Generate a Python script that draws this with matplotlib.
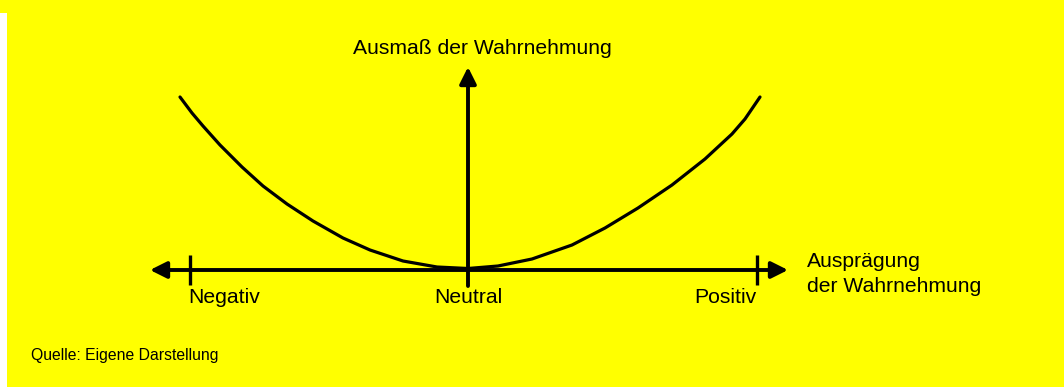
import matplotlib
matplotlib.use("Agg")
import matplotlib.pyplot as plt
from matplotlib.patches import Rectangle

plt.rcParams['font.family'] = ['Liberation Sans', 'DejaVu Sans']

# Kurve der Wahrnehmung (Ursprung = Schnittpunkt der Achsen)
curve_x = [-288, -276, -265, -248, -226, -205, -181, -155, -125, -98, -65, -31,
           0, 30, 64, 104, 137, 170, 204, 237, 264, 277, 292]
curve_y = [173, 157, 144, 125, 103, 84, 66, 49, 32, 20, 9, 3,
           1.5, 4, 11, 25, 42, 62, 85, 111, 136, 151, 173]

# Achsenmarken
tick_pos = [-278, 0, 289]
tick_labels = ['Negativ', 'Neutral', 'Positiv']

x_axis_range = (-318, 320)
y_axis_range = (-16, 203)

YELLOW = '#FFFF00'

fig = plt.figure(figsize=(10.64, 3.87), dpi=100, facecolor=YELLOW)
ax = fig.add_axes([0, 0, 1, 1])
ax.set_facecolor(YELLOW)
ax.set_xlim(-468, 596)
ax.set_ylim(-117, 270)
ax.axis('off')

# weisser Rand links
fig.patches.append(Rectangle((0, 0), 7 / 1064, 374 / 387, transform=fig.transFigure,
                             facecolor='white', edgecolor='none', zorder=0))

arrow = dict(arrowstyle='-|>,head_length=0.5,head_width=0.25', lw=2.8,
             color='black', mutation_scale=20, shrinkA=0, shrinkB=0)
arrow2 = dict(arrow, arrowstyle='<|-|>,head_length=0.5,head_width=0.25')

# horizontale Achse
ax.annotate('', xy=(x_axis_range[1], 0), xytext=(x_axis_range[0], 0), arrowprops=arrow2)
# vertikale Achse
ax.annotate('', xy=(0, y_axis_range[1]), xytext=(0, y_axis_range[0]), arrowprops=arrow)

# Striche bei Negativ / Positiv
for tx in (tick_pos[0], tick_pos[2]):
    ax.plot([tx, tx], [15, -15], color='black', lw=2.4, solid_capstyle='butt')

ax.plot(curve_x, curve_y, color='black', lw=2.3, solid_capstyle='round',
        solid_joinstyle='round')

fs = 15.2
ax.text(tick_pos[0] - 2, -33, tick_labels[0], ha='left', va='baseline', fontsize=fs)
ax.text(tick_pos[1], -33, tick_labels[1], ha='center', va='baseline', fontsize=fs)
ax.text(tick_pos[2], -33, tick_labels[2], ha='right', va='baseline', fontsize=fs)

ax.text(-115, 216, 'Ausmaß der Wahrnehmung', ha='left', va='baseline', fontsize=fs)
ax.text(339, 3, 'Ausprägung', ha='left', va='baseline', fontsize=fs)
ax.text(339, -22, 'der Wahrnehmung', ha='left', va='baseline', fontsize=fs)

ax.text(-437, -90, 'Quelle: Eigene Darstellung', ha='left', va='baseline', fontsize=11.3)

fig.savefig('out.png', dpi=100, facecolor=YELLOW)
